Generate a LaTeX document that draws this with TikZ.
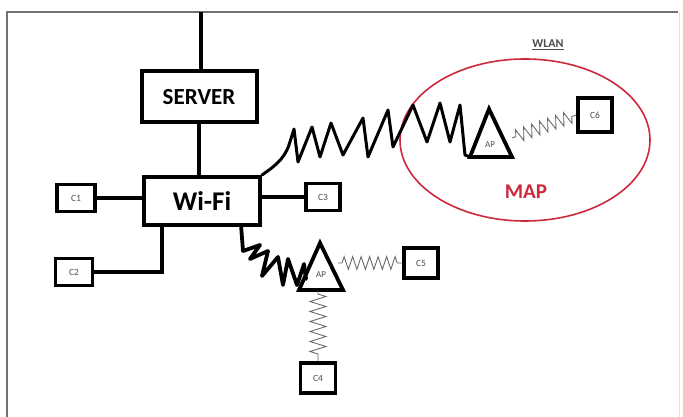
\documentclass[tikz,border=0pt]{standalone}
\usepackage{fontspec}
\setmainfont{Carlito}
\usetikzlibrary{decorations.pathmorphing,shapes.geometric}
\definecolor{mapred}{RGB}{205,40,60}
\begin{document}
\begin{tikzpicture}[x=1pt,y=-1pt,
  bigbox/.style={draw,line width=4pt,inner sep=0pt,font=\bfseries},
  cbox/.style={draw,line width=3.5pt,inner sep=0pt,font=\fontsize{9.5}{10}\selectfont,text=black!70},
  wire/.style={line width=4pt},
  tri/.style={line width=3.8pt,line join=miter},
  thickzig/.style={line width=3pt,line join=round,line cap=round},
  thinzig/.style={black!60,line width=0.85pt,decorate,
     decoration={zigzag,segment length=8.5pt,amplitude=6.5pt,pre length=4pt,post length=4pt}},
  aplabel/.style={inner sep=0pt,font=\fontsize{9}{10}\selectfont,text=black!70}
]
\useasboundingbox (0,0) rectangle (683,417);
% frame
\draw[black!55,line width=2pt] (7,440) -- (7,12) -- (678,12);
\draw[black!12,line width=1pt] (679,12) -- (679,440);

% main nodes
\node[bigbox,minimum width=115pt,minimum height=51pt,font=\bfseries\fontsize{23}{26}\selectfont] (server) at (199,97) {SERVER};
\node[bigbox,minimum width=116pt,minimum height=48pt,font=\bfseries\fontsize{27}{30}\selectfont] (wifi) at (202,201) {Wi-Fi};
\coordinate (top) at (201,12);

\node[cbox,minimum width=38pt,minimum height=27pt] (c1) at (76,198) {C1};
\node[cbox,minimum width=37pt,minimum height=27pt] (c2) at (74,272) {C2};
\node[cbox,minimum width=34pt,minimum height=27pt] (c3) at (323,197) {C3};
\node[cbox,minimum width=35pt,minimum height=30pt] (c4) at (318,378) {C4};
\node[cbox,minimum width=34pt,minimum height=30pt] (c5) at (421,263) {C5};
\node[cbox,minimum width=34pt,minimum height=34pt] (c6) at (595,115) {C6};

% wired links
\draw[wire] (top) -- (top |- server.north);
\draw[wire] (server.south) -- (server.south |- wifi.north);
\draw[wire] (c1.east) -- (c1.east -| wifi.west);
\draw[wire] (c3.west) -- (c3.west -| wifi.east);
\draw[wire] (c2.east) -| (162,225);

% WLAN ellipse
\node[draw=mapred,line width=1.6pt,ellipse,inner sep=0pt,minimum width=250pt,minimum height=162pt] (map) at (525,140) {};
\node[mapred,font=\bfseries\fontsize{21}{24}\selectfont] (maptext) at (526,192) {MAP};
\node[font=\bfseries\fontsize{12}{13}\selectfont,text=black!70] (wlan) at (548,45) {\underline{WLAN}};

% upper AP
\coordinate (ap1l) at (470,157);
\coordinate (ap1t) at (489,109);
\coordinate (ap1r) at (512,157);
\draw[tri] (ap1l) -- (ap1t) -- (ap1r) -- cycle;
\node[aplabel] (ap1) at (490,145) {AP};

% lower AP
\coordinate (ap2l) at (299,290);
\coordinate (ap2t) at (320,243);
\coordinate (ap2r) at (343,290);
\draw[tri] (ap2l) -- (ap2t) -- (ap2r) -- cycle;
\node[aplabel] (ap2) at (321,275) {AP};

% thick zigzags (wireless backbone)
\draw[thickzig] (wifi.north east) .. controls (272,168) and (284,160) .. (289,145)
  -- (294,129) -- (298,162) -- (312,127) -- (320,157) -- (331,123) -- (343,155)
  -- (363,118) -- (368,157) -- (388,110) -- (393,147) -- (413,105) -- (427,142)
  -- (440,103) -- (450,142) -- (460,105) -- (465,155) -- (ap1l);
\draw[thickzig,line width=3.8pt] (241,225) -- (243,251) -- (260,245) -- (250,259)
  -- (268,251) -- (262,276) -- (278,257) -- (283,285) -- (288,259) -- (297,285)
  -- (304,264) -- (306,279);

% thin zigzags (clients)
\coordinate (ap1out) at (512,138);
\coordinate (ap2out) at (338,263);
\coordinate (ap2down) at (318,291);
\draw[thinzig] (ap1out) -- (c6.west);
\draw[thinzig] (ap2out) -- (c5.west);
\draw[thinzig,decoration={zigzag,segment length=10pt,amplitude=8pt,pre length=3pt,post length=4pt}] (ap2down) -- (c4.north);
\end{tikzpicture}
\end{document}
